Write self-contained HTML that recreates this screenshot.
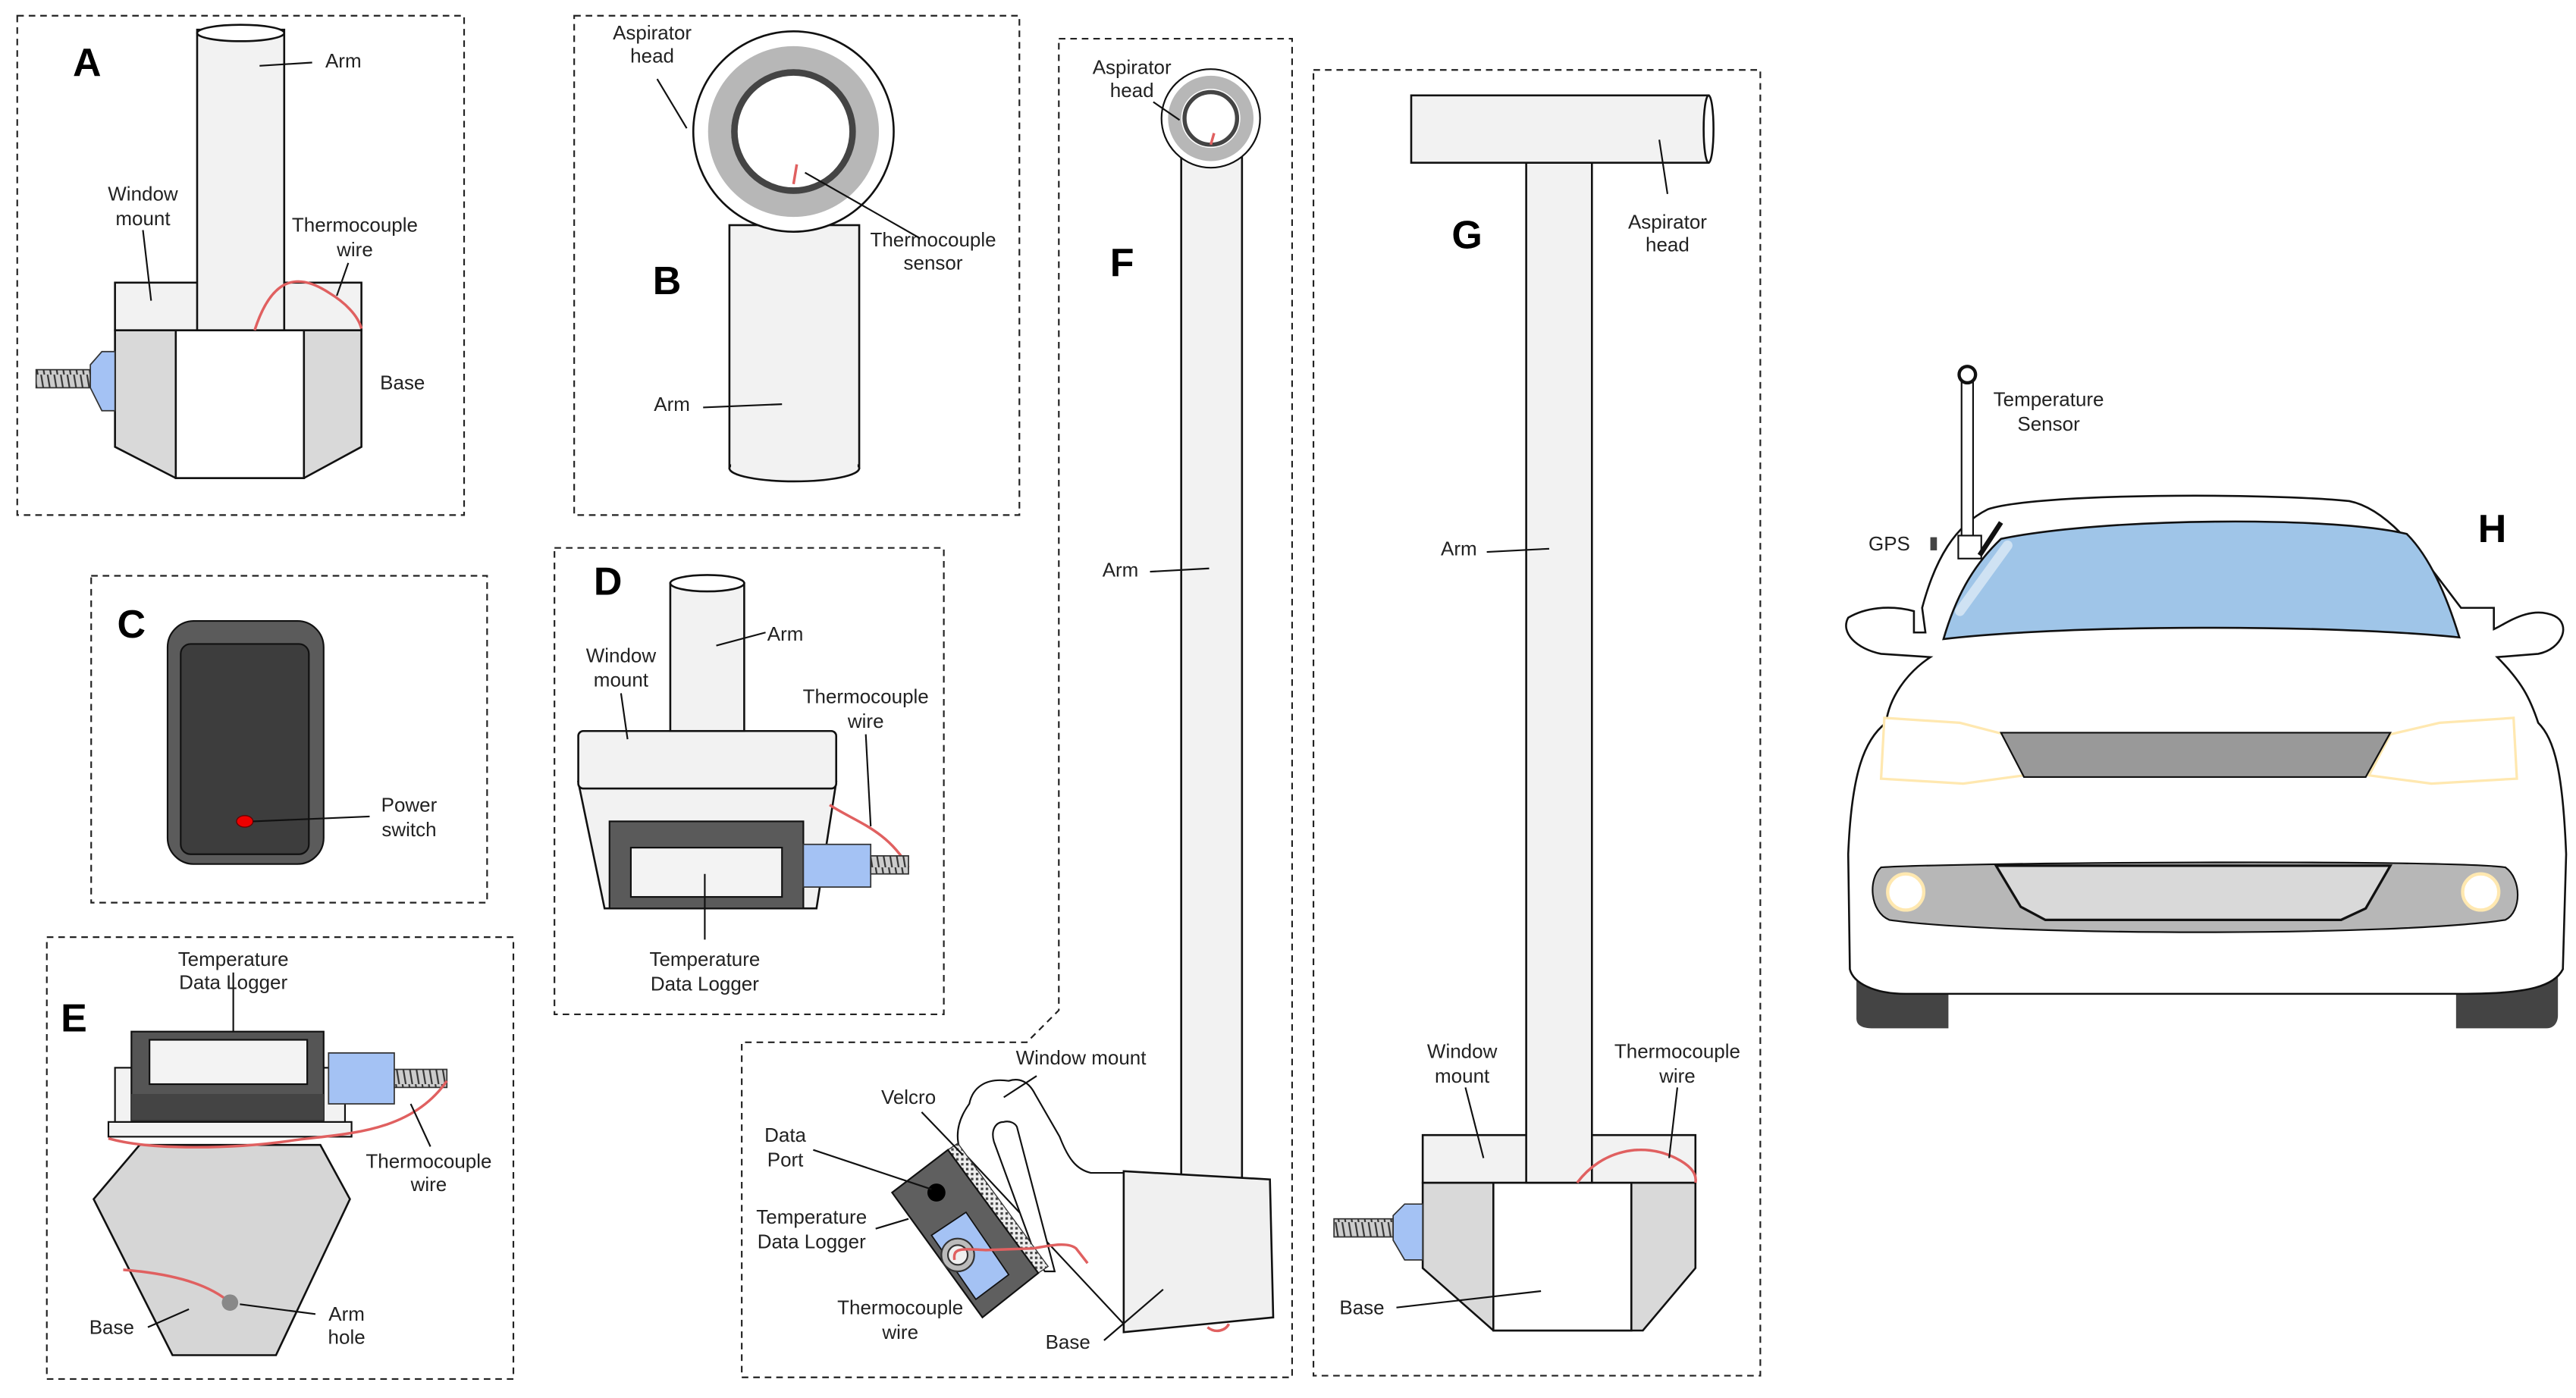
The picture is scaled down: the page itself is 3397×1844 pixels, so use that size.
<!DOCTYPE html>
<html><head><meta charset="utf-8"><style>
html,body{margin:0;padding:0;background:#fff;}
svg{display:block;}
text{font-family:"Liberation Sans",sans-serif;font-size:12px;fill:#222;text-anchor:middle;}
.L{font-size:24px;font-weight:bold;fill:#000;}
.box{fill:none;stroke:#222;stroke-width:1;stroke-dasharray:4,3;}
.s{stroke:#111;stroke-width:1.2;}
.ln{stroke:#111;stroke-width:1;fill:none;}
.red{stroke:#e06060;stroke-width:1.6;fill:none;}
</style></head><body>
<svg width="3397" height="1844" viewBox="0 0 1568 851" xmlns="http://www.w3.org/2000/svg">
<rect width="1568" height="851" fill="#fff"/>
<defs>
<pattern id="scr" width="4" height="12" patternUnits="userSpaceOnUse"><rect width="4" height="12" fill="#ccc"/><line x1="1" y1="0" x2="3" y2="12" stroke="#333" stroke-width="1"/></pattern>
<pattern id="vel" width="3" height="3" patternUnits="userSpaceOnUse"><rect width="3" height="3" fill="#eee"/><rect width="1.5" height="1.5" fill="#444"/></pattern>
</defs>

<!-- Panel A -->
<rect class="box" x="10.5" y="9.5" width="272" height="304"/>
<text class="L" x="53" y="46">A</text>
<polygon class="s" points="70,201 220,201 220,272 185,291 107,291 70,272" fill="#d9d9d9"/>
<rect class="s" x="107" y="201" width="78" height="90" fill="#fff"/>
<rect class="s" x="70" y="172" width="150" height="29" fill="#f2f2f2"/>
<rect class="s" x="120" y="18" width="53" height="183" fill="#f2f2f2"/>
<ellipse class="s" cx="146.5" cy="20" rx="26.5" ry="5" fill="#fff"/>
<path class="red" d="M155,201 C165,170 180,165 200,178 C210,184 218,192 220,200"/>
<rect x="22" y="225" width="33" height="11" fill="url(#scr)" stroke="#333" stroke-width="0.8"/>
<path d="M55,222 L62,214 L70,214 L70,250 L62,250 L55,236 Z" fill="#a4c2f4" stroke="#333" stroke-width="0.8"/>
<line class="ln" x1="158" y1="40" x2="190" y2="38"/><text x="209" y="41">Arm</text>
<text x="87" y="122">Window</text><text x="87" y="137">mount</text>
<line class="ln" x1="87" y1="140" x2="92" y2="183"/>
<text x="216" y="141">Thermocouple</text><text x="216" y="156">wire</text>
<line class="ln" x1="212" y1="160" x2="205" y2="180"/>
<text x="245" y="237">Base</text>

<!-- Panel B -->
<rect class="box" x="349.5" y="9.5" width="271" height="304"/>
<rect class="s" x="444" y="137" width="79" height="148" fill="#f2f2f2"/>
<ellipse cx="483.5" cy="285" rx="39.5" ry="8" fill="#f2f2f2" stroke="#111" stroke-width="1.2"/>
<rect x="445" y="270" width="77" height="15" fill="#f2f2f2"/>
<circle cx="483" cy="80" r="61" fill="#fff" stroke="#111" stroke-width="1.2"/>
<circle cx="483" cy="80" r="45" fill="none" stroke="#b7b7b7" stroke-width="14"/>
<circle cx="483" cy="80" r="36" fill="#fff" stroke="#444" stroke-width="4"/>
<path class="red" d="M483,112 L485,100" />
<text class="L" x="406" y="179">B</text>
<text x="397" y="24">Aspirator</text><text x="397" y="38">head</text>
<line class="ln" x1="400" y1="48" x2="418" y2="78"/>
<text x="568" y="150">Thermocouple</text><text x="568" y="164">sensor</text>
<line class="ln" x1="490" y1="105" x2="560" y2="145"/>
<text x="409" y="250">Arm</text><line class="ln" x1="428" y1="248" x2="476" y2="246"/>

<!-- Panel C -->
<rect class="box" x="55.5" y="350.5" width="241" height="199"/>
<text class="L" x="80" y="388">C</text>
<rect x="102" y="378" width="95" height="148" rx="16" fill="#5b5b5b" stroke="#111"/>
<rect x="110" y="392" width="78" height="128" rx="6" fill="#3d3d3d" stroke="#111"/>
<ellipse cx="149" cy="500" rx="5" ry="3.5" fill="#e00" stroke="#600" stroke-width="0.6"/>
<line class="ln" x1="154" y1="500" x2="225" y2="497"/>
<text x="249" y="494">Power</text><text x="249" y="509">switch</text>

<!-- Panel D -->
<rect class="box" x="337.5" y="333.5" width="237" height="284"/>
<text class="L" x="370" y="362">D</text>
<polygon class="s" points="352,476 509,476 497,553 368,553" fill="#f2f2f2"/>
<rect class="s" x="352" y="445" width="157" height="35" rx="3" fill="#f2f2f2"/>
<rect class="s" x="408" y="355" width="45" height="90" fill="#f2f2f2"/>
<ellipse class="s" cx="430.5" cy="355" rx="22.5" ry="5" fill="#fff"/>
<path class="red" d="M505,490 C520,500 540,505 553,528"/>
<rect x="371" y="500" width="118" height="53" fill="#5a5a5a" stroke="#111"/>
<rect x="384" y="516" width="92" height="30" fill="#f3f3f3" stroke="#111"/>
<rect x="489" y="514" width="41" height="26" fill="#a4c2f4" stroke="#333" stroke-width="0.8"/>
<rect x="530" y="521" width="23" height="11" fill="url(#scr)" stroke="#333" stroke-width="0.8"/>
<line class="ln" x1="436" y1="393" x2="466" y2="385"/><text x="478" y="390">Arm</text>
<text x="378" y="403">Window</text><text x="378" y="418">mount</text>
<line class="ln" x1="378" y1="422" x2="382" y2="450"/>
<text x="527" y="428">Thermocouple</text><text x="527" y="443">wire</text>
<line class="ln" x1="527" y1="447" x2="530" y2="503"/>
<line class="ln" x1="429" y1="532" x2="429" y2="572"/>
<text x="429" y="588">Temperature</text><text x="429" y="603">Data Logger</text>

<!-- Panel E -->
<rect class="box" x="28.5" y="570.5" width="284" height="269"/>
<text class="L" x="45" y="628">E</text>
<polygon class="s" points="85,697 195,697 213,730 168,825 105,825 57,730" fill="#d6d6d6"/>
<rect x="66" y="683" width="148" height="9" fill="#f2f2f2" stroke="#111"/>
<rect x="70" y="650" width="140" height="33" fill="#f2f2f2" stroke="#111"/>
<rect x="80" y="628" width="117" height="54" fill="#555" stroke="#111"/>
<rect x="91" y="633" width="96" height="27" fill="#f3f3f3" stroke="#111"/>
<rect x="80" y="666" width="117" height="16" fill="#444"/>
<rect x="200" y="641" width="40" height="31" fill="#a4c2f4" stroke="#333" stroke-width="0.8"/>
<rect x="240" y="651" width="32" height="11" fill="url(#scr)" stroke="#333" stroke-width="0.8"/>
<path class="red" d="M272,658 C250,690 210,690 180,694 C140,700 90,700 66,693"/>
<path class="red" d="M75,773 C100,775 125,780 140,793"/>
<circle cx="140" cy="793" r="5" fill="#888"/>
<line class="ln" x1="142" y1="592" x2="142" y2="628"/>
<text x="142" y="588">Temperature</text><text x="142" y="602">Data Logger</text>
<line class="ln" x1="250" y1="672" x2="262" y2="698"/>
<text x="261" y="711">Thermocouple</text><text x="261" y="725">wire</text>
<text x="68" y="812">Base</text><line class="ln" x1="90" y1="808" x2="115" y2="797"/>
<text x="211" y="804">Arm</text><text x="211" y="818">hole</text><line class="ln" x1="146" y1="794" x2="192" y2="800"/>

<!-- Panel F -->
<polygon class="box" points="644.5,23.5 786.5,23.5 786.5,838.5 451.5,838.5 451.5,634.5 625,634.5 644.5,615"/>
<text class="L" x="683" y="168">F</text>
<rect class="s" x="719" y="95" width="37" height="623" fill="#f2f2f2"/>
<circle cx="737" cy="72" r="30" fill="#fff" stroke="#111"/>
<circle cx="737" cy="72" r="22" fill="none" stroke="#b7b7b7" stroke-width="8"/>
<circle cx="737" cy="72" r="16" fill="#fff" stroke="#444" stroke-width="2.5"/>
<path class="red" d="M737,88 L739,81"/>
<text x="689" y="45">Aspirator</text><text x="689" y="59">head</text>
<line class="ln" x1="702" y1="62" x2="718" y2="73"/>
<text x="682" y="351">Arm</text><line class="ln" x1="700" y1="348" x2="736" y2="346"/>
<path d="M684,714 L664,714 C655,712 650,705 645,692 L630,666 C626,658 620,656 614,658 C600,656 592,662 590,672 C582,683 582,692 584,699 L684,806" fill="#fff" stroke="#111" stroke-width="1"/>
<path d="M605,695 C603,688 606,683 611,683 C615,682 618,684 619,686 L642,774 L636,774 C633,770 630,764 628,758 Z" fill="#fff" stroke="#111" stroke-width="1"/>
<polygon class="s" points="684,713 773,718 775,802 684,811" fill="#f0f0f0"/>
<path class="red" d="M735,808 C740,812 746,810 748,806"/>
<polygon points="577,700 583,696 638,771 632,775" fill="url(#vel)" stroke="#333" stroke-width="0.6"/>
<polygon points="543,726 577,700 632,775 598,802" fill="#5f5f5f" stroke="#111"/>
<polygon points="567,752 588,738 614,776 594,791" fill="#a4c2f4" stroke="#111" stroke-width="0.8"/>
<circle cx="570" cy="726" r="5.5" fill="#000"/>
<circle cx="583" cy="764" r="10" fill="#bbb" stroke="#333"/>
<circle cx="583" cy="764" r="6" fill="#f0f0f0" stroke="#333"/>
<path class="red" d="M581,767 C580,760 584,760 600,761 L629,760 C640,758 650,756 655,760 L662,769"/>
<text x="658" y="648">Window mount</text><line class="ln" x1="631" y1="655" x2="611" y2="668"/>
<text x="553" y="672">Velcro</text><line class="ln" x1="561" y1="677" x2="586" y2="703"/>
<text x="478" y="695">Data</text><text x="478" y="710">Port</text>
<line class="ln" x1="495" y1="700" x2="567" y2="724"/>
<text x="494" y="745">Temperature</text><text x="494" y="760">Data Logger</text>
<line class="ln" x1="533" y1="748" x2="553" y2="742"/>
<text x="548" y="800">Thermocouple</text><text x="548" y="815">wire</text>
<text x="650" y="821">Base</text><line class="ln" x1="672" y1="816" x2="708" y2="785"/>

<!-- Panel G -->
<rect class="box" x="799.5" y="42.5" width="272" height="795"/>
<text class="L" x="893" y="151">G</text>
<polygon class="s" points="866,720 1032,720 1032,772 1000,810 909,810 866,772" fill="#d9d9d9"/>
<rect class="s" x="909" y="720" width="84" height="90" fill="#fff"/>
<rect class="s" x="866" y="691" width="166" height="29" fill="#f2f2f2"/>
<rect class="s" x="929" y="99" width="40" height="621" fill="#f2f2f2"/>
<rect class="s" x="859" y="58" width="181" height="41" fill="#f2f2f2"/>
<ellipse class="s" cx="1040" cy="78.5" rx="3" ry="20.5" fill="#fff"/>
<path class="red" d="M960,720 C975,700 1000,695 1020,705 C1030,710 1033,715 1032,720"/>
<rect x="812" y="742" width="36" height="11" fill="url(#scr)" stroke="#333" stroke-width="0.8"/>
<path d="M848,740 L855,733 L866,733 L866,767 L855,767 L848,755 Z" fill="#a4c2f4" stroke="#333" stroke-width="0.8"/>
<text x="1015" y="139">Aspirator</text><text x="1015" y="153">head</text>
<line class="ln" x1="1010" y1="85" x2="1015" y2="118"/>
<text x="888" y="338">Arm</text><line class="ln" x1="905" y1="336" x2="943" y2="334"/>
<text x="890" y="644">Window</text><text x="890" y="659">mount</text>
<line class="ln" x1="892" y1="662" x2="903" y2="705"/>
<text x="1021" y="644">Thermocouple</text><text x="1021" y="659">wire</text>
<line class="ln" x1="1021" y1="662" x2="1016" y2="705"/>
<text x="829" y="800">Base</text><line class="ln" x1="850" y1="796" x2="938" y2="786"/>

<!-- Car H -->
<text class="L" x="1517" y="330">H</text>
<path d="M1130,560 L1130,620 C1130,625 1135,626 1140,626 L1186,626 L1186,580 Z" fill="#444"/>
<path d="M1495,580 L1495,626 L1550,626 C1555,626 1557,622 1557,618 L1557,560 Z" fill="#444"/>
<path d="M1170,370 C1178,340 1190,320 1210,310 C1240,300 1380,300 1430,305 C1455,310 1475,340 1498,370 L1518,370 L1518,383 C1525,380 1540,368 1555,375 C1565,380 1560,395 1545,398 L1520,400 C1535,415 1540,425 1545,440 C1555,450 1560,470 1562,520 L1560,590 C1555,600 1540,605 1500,605 L1160,605 C1140,605 1128,598 1126,590 L1125,520 C1127,470 1135,450 1148,440 C1150,425 1160,410 1175,400 L1145,398 C1130,395 1120,385 1125,376 C1135,370 1150,368 1165,372 L1165,385 L1172,385 Z" fill="#fff" stroke="#111" stroke-width="1.2"/>
<path d="M1183,389 C1190,365 1200,345 1218,328 C1280,315 1420,314 1465,325 C1480,340 1490,365 1497,388 C1420,380 1260,380 1183,389 Z" fill="#9fc5e8" stroke="#111" stroke-width="1.2"/>
<line x1="1193" y1="372" x2="1222" y2="332" stroke="#cfe2f3" stroke-width="6" stroke-linecap="round"/>
<path d="M1147,437 L1193,440 L1220,447 L1232,472 L1195,477 L1145,474 Z" fill="#fff" stroke="#ffe8b0" stroke-width="1.5"/>
<path d="M1530,437 L1485,440 L1455,447 L1442,472 L1480,477 L1532,474 Z" fill="#fff" stroke="#ffe8b0" stroke-width="1.5"/>
<polygon points="1218,446 1455,446 1440,473 1232,473" fill="#999" stroke="#111"/>
<path d="M1145,528 C1190,525 1490,523 1525,528 C1535,535 1535,555 1525,560 C1460,570 1220,570 1150,560 C1138,555 1137,535 1145,528 Z" fill="#b7b7b7" stroke="#111"/>
<polygon points="1215,527 1455,527 1440,553 1425,560 1245,560 1230,552" fill="#d9d9d9" stroke="#111" stroke-width="1.5"/>
<circle cx="1160" cy="543" r="11" fill="#fff" stroke="#ffe8b0" stroke-width="2"/>
<circle cx="1510" cy="543" r="11" fill="#fff" stroke="#ffe8b0" stroke-width="2"/>
<rect x="1194" y="232" width="7" height="95" fill="#fff" stroke="#111"/>
<circle cx="1197.5" cy="228" r="5" fill="#fff" stroke="#111" stroke-width="2"/>
<rect x="1192" y="326" width="14" height="14" fill="#fff" stroke="#111"/>
<path d="M1205,338 L1218,318" stroke="#111" stroke-width="3"/>
<rect x="1175" y="327" width="4" height="8" fill="#444"/>
<text x="1247" y="247">Temperature</text><text x="1247" y="262">Sensor</text>
<text x="1150" y="335">GPS</text>
</svg>
</body></html>
